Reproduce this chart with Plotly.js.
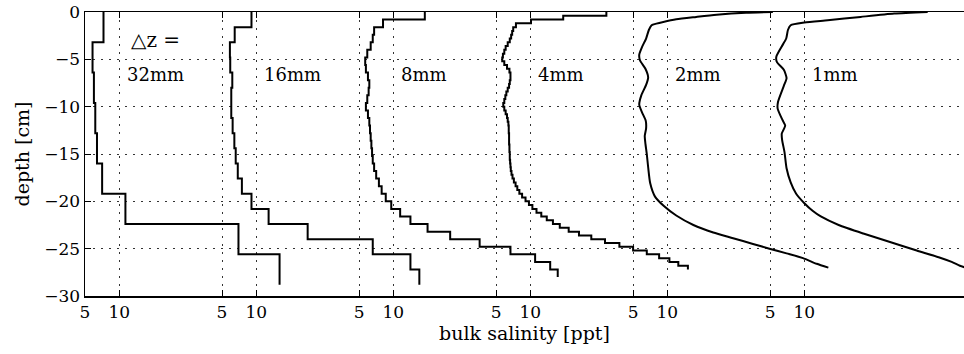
<!DOCTYPE html>
<html>
<head>
<meta charset="utf-8">
<script src="https://cdn.plot.ly/plotly-3.0.1.min.js"></script>
<style>
  html, body { margin: 0; padding: 0; background: #fff; overflow: hidden; }
  #chart { width: 964px; height: 354px; }
</style>
</head>
<body>
<div id="chart"></div>
<script>
// Bulk salinity [ppt] versus depth [cm] for six grid spacings Δz.
// Each run is drawn in its own column, shifted 20 ppt to the right of the previous one.

const runLabels = ['32mm', '16mm', '8mm', '4mm', '2mm', '1mm'];

// Layered runs: one salinity value per layer, layers counted from the surface down.
const layerDz = [3.2, 1.6, 0.8, 0.4];   // cm, for the 32, 16, 8 and 4 mm runs

const sal32mm = [7.7, 6.1, 6.3, 6.5, 6.75, 7.5, 10.9, 27.4, 33.4];

const sal16mm = [9.3, 6.85, 6.15, 6.2, 6.5, 6.35, 6.35, 6.55, 6.8, 7.0,
                 7.3, 7.9, 9.3, 11.8, 17.5, 27.0, 32.5, 33.8];

const sal8mm = [14.6, 8.5, 7.2, 7.0, 6.7, 6.2, 5.9, 6.0, 6.3, 6.5,
                6.4, 6.2, 6.0, 6.3, 6.5, 6.6, 6.7, 6.8, 6.9, 7.0,
                7.2, 7.5, 7.9, 8.3, 8.9, 9.7, 11.0, 12.5, 15.0, 18.3,
                22.6, 27.1, 30.7, 32.9, 34.0];

const sal4mm = [21.1, 14.8, 10.1, 7.9, 7.5, 7.35, 7.2, 7.0, 6.7, 6.4,
                6.2, 6.0, 5.9, 6.2, 6.6, 6.95, 7.1, 7.1, 7.0, 6.9,
                6.7, 6.5, 6.35, 6.2, 6.05, 6.2, 6.4, 6.6, 6.7, 6.8,
                6.85, 6.85, 6.9, 6.9, 6.9, 6.95, 6.95, 7.0, 7.0, 7.05,
                7.1, 7.15, 7.25, 7.4, 7.6, 7.85, 8.1, 8.4, 8.8, 9.3,
                9.8, 10.3, 10.9, 11.6, 12.4, 13.3, 14.3, 15.6, 17.1, 18.9,
                20.9, 23.0, 25.0, 27.0, 28.8, 30.3, 31.6, 33.0];

// Fine runs: profile sampled at (depth, salinity) pairs.
const depth2mm = [0, -0.07, -0.28, -0.52, -0.77, -1.05, -1.23, -1.4, -1.9, -2.8,
                  -3.7, -4.5, -5.1, -6.0, -6.9, -7.7, -8.8, -9.8, -10.6, -11.5,
                  -12.3, -13.1, -13.9, -15.0, -16.4, -18.1, -19.5, -20.5, -21.5, -22.5,
                  -23.3, -23.9, -24.5, -25.0, -25.5, -26.0, -26.6, -27.0];
const sal2mm   = [25.4, 21.5, 17.2, 14.2, 11.3, 9.4, 8.4, 7.7, 7.3, 6.9,
                  6.3, 5.9, 6.0, 6.8, 7.2, 6.9, 6.2, 5.9, 6.3, 6.85,
                  6.9, 6.7, 6.8, 7.0, 7.2, 7.5, 8.2, 9.5, 11.3, 13.8,
                  16.7, 19.6, 22.5, 24.9, 27.4, 29.8, 31.8, 33.5];

const depth1mm = [0, -0.17, -0.52, -0.88, -1.12, -1.4, -1.9, -2.8, -3.7, -4.75,
                  -5.3, -6.1, -7.0, -7.8, -9.5, -10.2, -11.4, -12.0, -12.85, -13.5,
                  -14.8, -16.5, -18.0, -19.2, -20.2, -21.0, -21.6, -22.5, -23.4, -24.3,
                  -25.2, -25.9, -26.4, -26.8, -27.0];
const sal1mm   = [28.0, 23.1, 18.2, 13.4, 10.0, 8.0, 7.6, 7.35, 6.65, 5.9,
                  6.0, 7.0, 7.4, 7.0, 6.15, 6.1, 6.8, 7.2, 6.7, 6.75,
                  7.1, 7.4, 8.0, 8.8, 10.0, 11.2, 12.4, 15.0, 18.6, 22.5,
                  26.4, 29.6, 31.5, 32.7, 33.5];

// Axis tick labels repeated in every column
const columnTicks = [5, 10];
const depthTicks = [0, -5, -10, -15, -20, -25, -30];

// ---- drawing ----
const COLUMN_SHIFT = 20;
const SERIF = '"DejaVu Serif", "Liberation Serif", serif';
const lineStyle = { color: '#000', width: 2 };

function layeredTrace(values, dz, column) {
  const x = [], y = [];
  values.forEach((v, i) => { x.push(v + column * COLUMN_SHIFT); y.push(-i * dz); });
  x.push(values[values.length - 1] + column * COLUMN_SHIFT);
  y.push(-values.length * dz);
  return { x, y, type: 'scatter', mode: 'lines',
           line: Object.assign({ shape: 'vh' }, lineStyle),
           hoverinfo: 'skip', showlegend: false };
}

function sampledTrace(depths, values, column) {
  return { x: values.map(v => v + column * COLUMN_SHIFT), y: depths,
           type: 'scatter', mode: 'lines',
           line: Object.assign({ shape: 'spline', smoothing: 0.6 }, lineStyle),
           hoverinfo: 'skip', showlegend: false };
}

const layered = [sal32mm, sal16mm, sal8mm, sal4mm];
const traces = layered.map((vals, k) => layeredTrace(vals, layerDz[k], k));
traces.push(sampledTrace(depth2mm, sal2mm, 4));
traces.push(sampledTrace(depth1mm, sal1mm, 5));

const tickvals = [], ticktext = [];
runLabels.forEach((_, k) => columnTicks.forEach(t => {
  tickvals.push(t + k * COLUMN_SHIFT); ticktext.push(String(t));
}));

const annotations = runLabels.map((lab, k) => ({
  x: 10.8 + k * COLUMN_SHIFT, y: -6.6, xref: 'x', yref: 'y',
  text: lab, showarrow: false, xanchor: 'left', yanchor: 'middle',
  font: { family: SERIF, size: 18, color: '#000' }
}));
annotations.push({
  x: 11.4, y: -3.0, xref: 'x', yref: 'y', text: '\u25B3z =',
  showarrow: false, xanchor: 'left', yanchor: 'middle',
  font: { family: SERIF, size: 20, color: '#000' }
});

const axisCommon = {
  showline: true, linecolor: '#000', linewidth: 1.5,
  ticks: 'inside', ticklen: 6, tickwidth: 1, tickcolor: '#000',
  showgrid: true, gridcolor: '#333', gridwidth: 1, griddash: '2px,6px',
  zeroline: false,
  tickfont: { family: SERIF, size: 17, color: '#000' }
};

const layout = {
  width: 964, height: 354,
  margin: { l: 85, r: 0, t: 12, b: 58 },
  paper_bgcolor: '#fff', plot_bgcolor: '#fff',
  xaxis: Object.assign({}, axisCommon, {
    range: [5, 133.3], mirror: 'ticks',
    tickmode: 'array', tickvals, ticktext,
    title: { text: 'bulk salinity [ppt]', standoff: 6,
             font: { family: SERIF, size: 19, color: '#000' } }
  }),
  yaxis: Object.assign({}, axisCommon, {
    range: [-30, 0], mirror: false,
    tickmode: 'array', tickvals: depthTicks,
    title: { text: 'depth [cm]', standoff: 9,
             font: { family: SERIF, size: 19, color: '#000' } }
  }),
  annotations,
  showlegend: false
};

Plotly.newPlot('chart', traces, layout, { staticPlot: true, displayModeBar: false });
</script>
</body>
</html>
